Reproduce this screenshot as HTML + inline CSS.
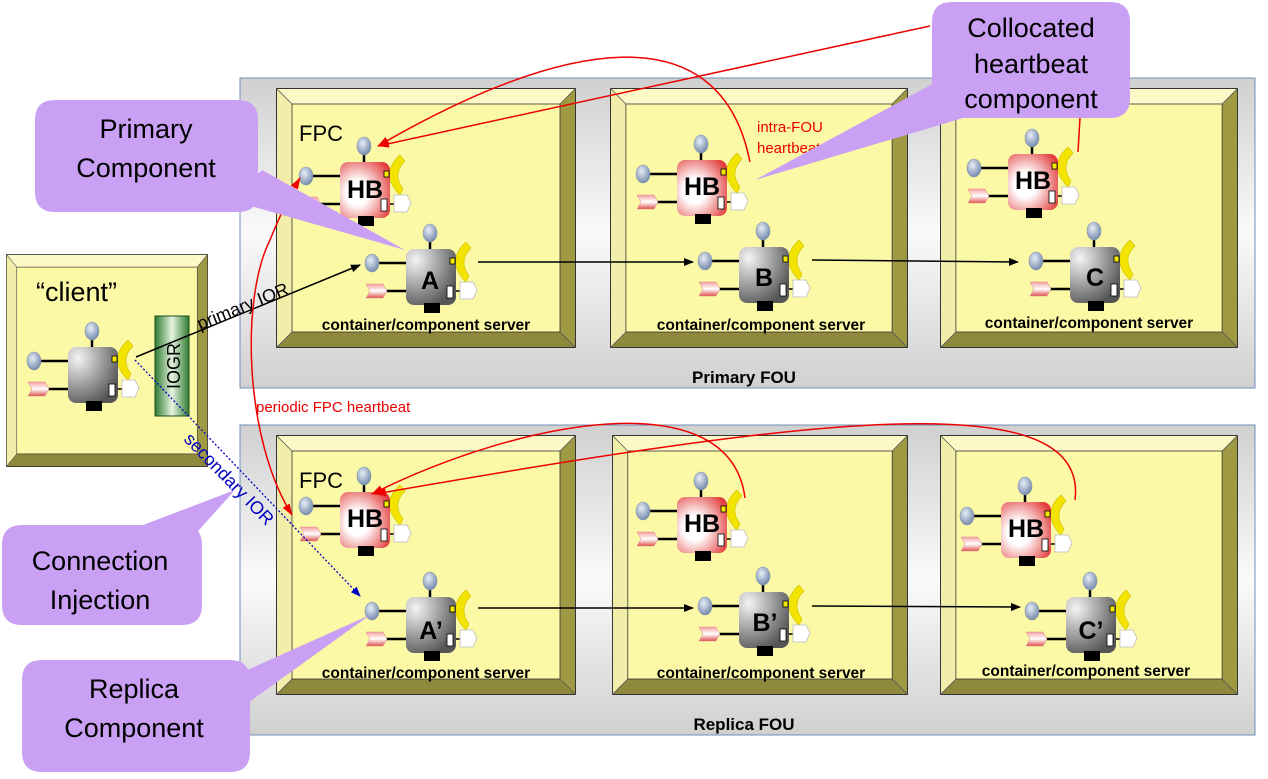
<!DOCTYPE html>
<html><head><meta charset="utf-8"><style>
html,body{margin:0;padding:0;background:#fff;}
svg{display:block;font-family:"Liberation Sans",Arial,sans-serif;}
</style></head><body>
<svg width="1268" height="779" viewBox="0 0 1268 779" xmlns="http://www.w3.org/2000/svg">
<defs>
<linearGradient id="pan" x1="0" y1="0" x2="0" y2="1">
<stop offset="0" stop-color="#d0d0d0"/><stop offset="0.5" stop-color="#fafafa"/><stop offset="1" stop-color="#d0d0d0"/></linearGradient>
<radialGradient id="gray" cx="0.2" cy="0.2" r="0.9"><stop offset="0" stop-color="#f4f4f4"/><stop offset="1" stop-color="#555"/></radialGradient>
<radialGradient id="pink" cx="0.35" cy="0.55" r="0.75"><stop offset="0.3" stop-color="#fff"/><stop offset="1" stop-color="#e23a3a"/></radialGradient>
<radialGradient id="ball" cx="0.4" cy="0.35" r="0.7"><stop offset="0" stop-color="#e8eef6"/><stop offset="1" stop-color="#6d84a8"/></radialGradient>
<linearGradient id="grn" x1="0" y1="0" x2="1" y2="0"><stop offset="0" stop-color="#2f7a2f"/><stop offset="0.5" stop-color="#e6f4e0"/><stop offset="1" stop-color="#2f7a2f"/></linearGradient>
<linearGradient id="chev" x1="0" y1="0" x2="0" y2="1"><stop offset="0" stop-color="#f4a0a0"/><stop offset="0.5" stop-color="#fff"/><stop offset="1" stop-color="#e05050"/></linearGradient>
<symbol id="bev" viewBox="0 0 300 260" preserveAspectRatio="none">
<rect x="0" y="0" width="300" height="260" fill="#a39d48"/>
<polygon points="0,0 300,0 284,16 16,16" fill="#fcf9c6"/>
<polygon points="0,0 16,16 16,244 0,260" fill="#f2eeaa"/>
<polygon points="300,0 300,260 284,244 284,16" fill="#9f9944"/>
<polygon points="0,260 300,260 284,244 16,244" fill="#8e893c"/>
<rect x="16" y="16" width="268" height="228" fill="#fcf9a6" stroke="#333" stroke-width="0.8"/>
<rect x="0.5" y="0.5" width="299" height="259" fill="none" stroke="#333" stroke-width="1"/>
<line x1="0" y1="0" x2="16" y2="16" stroke="#555" stroke-width="0.8"/>
<line x1="300" y1="0" x2="284" y2="16" stroke="#555" stroke-width="0.8"/>
<line x1="0" y1="260" x2="16" y2="244" stroke="#555" stroke-width="0.8"/>
<line x1="300" y1="260" x2="284" y2="244" stroke="#555" stroke-width="0.8"/>
</symbol>
<g id="parts">
<line x1="24" y1="-8" x2="24" y2="0" stroke="#000" stroke-width="2.5"/>
<ellipse cx="24" cy="-16" rx="7" ry="9" fill="url(#ball)" stroke="#8899aa" stroke-width="0.6"/>
<line x1="-28" y1="14" x2="0" y2="14" stroke="#000" stroke-width="2.5"/>
<ellipse cx="-34" cy="14" rx="7" ry="9" fill="url(#ball)" stroke="#8899aa" stroke-width="0.6"/>
<line x1="-22" y1="42" x2="0" y2="42" stroke="#000" stroke-width="2.5"/>
<polygon points="-40,35 -23,35 -19,42 -23,49 -40,49 -36,42" fill="url(#chev)" stroke="#d88" stroke-width="0.5"/>
<line x1="46" y1="12" x2="56" y2="12" stroke="#000" stroke-width="1.5"/>
<path d="M60,-7 Q39,12 60,33 L63,27 Q52,12 65,-1 Z" fill="#f2e400" stroke="#cfc000" stroke-width="0.6"/>
<line x1="46" y1="42" x2="54" y2="42" stroke="#000" stroke-width="1.5"/>
<polygon points="54,33 67,33 71,41 67,50 54,50" fill="#fff" stroke="#bbb" stroke-width="0.8"/>
</g>
<g id="gc"><use href="#parts"/><rect x="0" y="0" width="50" height="56" rx="8" fill="url(#gray)"/><rect x="18" y="54" width="16" height="10" fill="#000"/><rect x="41" y="37" width="6" height="12" fill="#fff" stroke="#000" stroke-width="0.8"/><rect x="44" y="9" width="5" height="6" fill="#f4e800" stroke="#000" stroke-width="0.8"/></g>
<g id="hb"><use href="#parts"/><rect x="0" y="0" width="50" height="56" rx="8" fill="url(#pink)"/><rect x="18" y="54" width="16" height="10" fill="#000"/><rect x="41" y="37" width="6" height="12" fill="#fff" stroke="#000" stroke-width="0.8"/><rect x="44" y="9" width="5" height="6" fill="#f4e800" stroke="#000" stroke-width="0.8"/></g>
<marker id="ab" markerWidth="10" markerHeight="8" refX="9" refY="4" orient="auto" markerUnits="userSpaceOnUse"><path d="M0,0 L10,4 L0,8 Z" fill="#000"/></marker>
<marker id="ar" markerWidth="12" markerHeight="8" refX="11" refY="4" orient="auto" markerUnits="userSpaceOnUse"><path d="M0,0 L12,4 L0,8 Z" fill="#e00"/></marker>
<marker id="au" markerWidth="10" markerHeight="8" refX="9" refY="4" orient="auto" markerUnits="userSpaceOnUse"><path d="M0,0 L10,4 L0,8 Z" fill="#0000c0"/></marker>
</defs>

<rect x="240" y="78" width="1015" height="310" fill="url(#pan)" stroke="#6f8fb8" stroke-width="1"/>
<rect x="240" y="425" width="1015" height="310" fill="url(#pan)" stroke="#6f8fb8" stroke-width="1"/>
<text x="744" y="383" font-size="17" font-weight="bold" text-anchor="middle">Primary FOU</text>
<text x="744" y="730" font-size="17" font-weight="bold" text-anchor="middle">Replica FOU</text>

<use href="#bev" x="276" y="88" width="300" height="260"/>
<use href="#bev" x="610" y="88" width="298" height="260"/>
<use href="#bev" x="940" y="88" width="298" height="260"/>
<use href="#bev" x="276" y="435" width="300" height="260"/>
<use href="#bev" x="612" y="435" width="296" height="260"/>
<use href="#bev" x="940" y="435" width="298" height="260"/>
<use href="#bev" x="6" y="254" width="202" height="213"/>

<g font-size="15.5" font-weight="bold" text-anchor="middle">
<text x="426" y="330">container/component server</text>
<text x="761" y="330">container/component server</text>
<text x="1089" y="328">container/component server</text>
<text x="426" y="678">container/component server</text>
<text x="761" y="678">container/component server</text>
<text x="1086" y="676">container/component server</text>
</g>
<text x="299" y="141" font-size="22">FPC</text>
<text x="299" y="488" font-size="22">FPC</text>
<text x="36" y="301" font-size="27">“client”</text>

<use href="#hb" x="340" y="162"/>
<use href="#gc" x="406" y="249"/>
<use href="#hb" x="677" y="160"/>
<use href="#gc" x="739" y="247"/>
<use href="#hb" x="1008" y="154"/>
<use href="#gc" x="1070" y="247"/>
<use href="#hb" x="340" y="492"/>
<use href="#gc" x="406" y="597"/>
<use href="#hb" x="677" y="497"/>
<use href="#gc" x="739" y="592"/>
<use href="#hb" x="1001" y="502"/>
<use href="#gc" x="1066" y="597"/>
<use href="#gc" x="68" y="347"/>

<g font-size="25" font-weight="bold" text-anchor="middle">
<text x="365" y="198">HB</text>
<text x="430" y="289">A</text>
<text x="702" y="195">HB</text>
<text x="764" y="286">B</text>
<text x="1033" y="189">HB</text>
<text x="1095" y="286">C</text>
<text x="365" y="527">HB</text>
<text x="431" y="639">A’</text>
<text x="702" y="532">HB</text>
<text x="765" y="631">B’</text>
<text x="1026" y="537">HB</text>
<text x="1091" y="639">C’</text>
</g>

<rect x="155" y="316" width="34" height="100" fill="url(#grn)" stroke="#1d4d1d" stroke-width="1"/>
<text transform="translate(180,366) rotate(-90)" font-size="18" text-anchor="middle">IOGR</text>

<g stroke="#000" stroke-width="1.5" fill="none" marker-end="url(#ab)">
<line x1="478" y1="262" x2="693" y2="262"/>
<line x1="812" y1="260" x2="1018" y2="262"/>
<line x1="478" y1="608" x2="693" y2="608"/>
<line x1="812" y1="606" x2="1020" y2="607"/>
<line x1="136" y1="357" x2="360" y2="265"/>
</g>
<text transform="translate(200,330) rotate(-22)" font-size="18">primary IOR</text>
<line x1="135" y1="360" x2="360" y2="596" stroke="#0000c0" stroke-width="1.3" stroke-dasharray="2,2" marker-end="url(#au)"/>
<text transform="translate(183,440) rotate(46)" font-size="18" fill="#0000c0">secondary IOR</text>

<g stroke="#e00" stroke-width="1.5" fill="none">
<path d="M930,26 L378,146" marker-end="url(#ar)"/>
<path d="M750,162 C720,10 560,40 378,146" marker-end="url(#ar)"/>
<path d="M1078,152 L1080,118"/>
<path d="M270,240 C240,300 245,440 292,515" marker-end="url(#ar)"/>
<path d="M270,240 C280,215 290,195 300,178" marker-end="url(#ar)"/>
<path d="M745,498 C730,380 520,420 372,494" marker-end="url(#ar)"/>
<path d="M1075,500 C1090,380 800,420 375,494" marker-end="url(#ar)"/>
</g>
<text x="757" y="132" font-size="15" fill="#e00">intra-FOU</text>
<text x="757" y="153" font-size="15" fill="#e00">heartbeat</text>
<text x="256" y="412" font-size="15" fill="#e00">periodic FPC heartbeat</text>

<g fill="#c9a0f4">
<path d="M55,100 H238 Q258,100 258,120 V192 Q258,212 238,212 H55 Q35,212 35,192 V120 Q35,100 55,100 Z"/>
<polygon points="230,200 262,170 405,250"/>
<path d="M952,2 H1110 Q1130,2 1130,22 V98 Q1130,118 1110,118 H952 Q932,118 932,98 V22 Q932,2 952,2 Z"/>
<polygon points="940,80 990,110 755,180"/>
<path d="M22,525 H182 Q202,525 202,545 V605 Q202,625 182,625 H22 Q2,625 2,605 V545 Q2,525 22,525 Z"/>
<polygon points="130,530 190,540 235,490"/>
<path d="M42,660 H230 Q250,660 250,680 V752 Q250,772 230,772 H42 Q22,772 22,752 V680 Q22,660 42,660 Z"/>
<polygon points="225,680 245,705 370,615"/>
</g>
<g font-size="27" text-anchor="middle">
<text x="146" y="138">Primary</text>
<text x="146" y="177">Component</text>
<text x="1031" y="37">Collocated</text>
<text x="1031" y="73">heartbeat</text>
<text x="1031" y="108">component</text>
<text x="100" y="570">Connection</text>
<text x="100" y="609">Injection</text>
<text x="134" y="698">Replica</text>
<text x="134" y="737">Component</text>
</g>
</svg>
</body></html>
